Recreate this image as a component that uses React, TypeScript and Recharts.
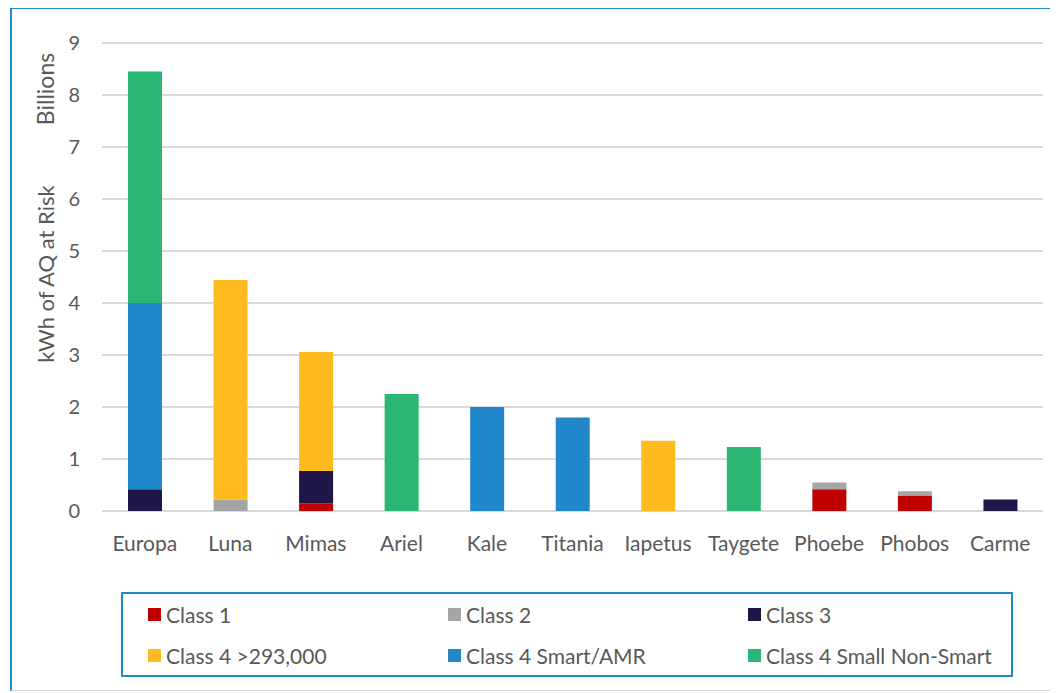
import React from 'react';
import { BarChart, Bar, XAxis, YAxis, CartesianGrid } from 'recharts';

const categories = ['Europa', 'Luna', 'Mimas', 'Ariel', 'Kale', 'Titania', 'Iapetus', 'Taygete', 'Phoebe', 'Phobos', 'Carme'];
const class1 = [0, 0, 0.15, 0, 0, 0, 0, 0, 0.42, 0.3, 0];
const class2 = [0, 0.22, 0, 0, 0, 0, 0, 0, 0.13, 0.08, 0];
const class3 = [0.42, 0, 0.62, 0, 0, 0, 0, 0, 0, 0, 0.22];
const class4Large = [0, 4.22, 2.29, 0, 0, 0, 1.35, 0, 0, 0, 0];
const class4Smart = [3.58, 0, 0, 0, 2.0, 1.8, 0, 0, 0, 0, 0];
const class4Small = [4.45, 0, 0, 2.25, 0, 0, 0, 1.23, 0, 0, 0];
const yTicks = [0, 1, 2, 3, 4, 5, 6, 7, 8, 9];

const seriesDefs = [
  { key: 'c1', name: 'Class 1', color: '#C00000', values: class1 },
  { key: 'c2', name: 'Class 2', color: '#A5A5A5', values: class2 },
  { key: 'c3', name: 'Class 3', color: '#201547', values: class3 },
  { key: 'c4l', name: 'Class 4 >293,000', color: '#FFBA1E', values: class4Large },
  { key: 'c4s', name: 'Class 4 Smart/AMR', color: '#2189CB', values: class4Smart },
  { key: 'c4n', name: 'Class 4 Small Non-Smart', color: '#2BB673', values: class4Small },
];

const data = categories.map((name, i) => {
  const row: Record<string, number | string> = { name };
  seriesDefs.forEach((s) => {
    row[s.key] = s.values[i];
  });
  return row;
});

const FONT = 'Lato, "Open Sans", sans-serif';
const TEXT = '#595959';

export default function App() {
  return (
    <div
      style={{
        position: 'relative',
        width: 1058,
        height: 693,
        marginLeft: -8,
        marginTop: -8,
        overflow: 'hidden',
        background: '#fff',
        fontFamily: FONT,
      }}
    >
      <div
        style={{
          position: 'absolute',
          left: 10,
          top: 7,
          width: 1070,
          height: 684,
          borderLeft: '2px solid #2189CB',
          borderTop: '2px solid #2189CB',
          borderBottom: '1px solid #d9d9d9',
          boxSizing: 'border-box',
        }}
      />
      <div style={{ position: 'absolute', left: 0, top: 0 }}>
        <BarChart
          width={1058}
          height={693}
          data={data}
          margin={{ top: 43, right: 15, bottom: 152, left: 52 }}
          barSize={34}
        >
          <CartesianGrid vertical={false} stroke="#d9d9d9" strokeWidth={2} />
          <XAxis
            dataKey="name"
            axisLine={false}
            tickLine={false}
            height={30}
            tickSize={0}
            tickMargin={25}
            tick={{ fill: TEXT, fontSize: 21, fontFamily: FONT }}
            interval={0}
          />
          <YAxis
            domain={[0, 9]}
            ticks={yTicks}
            width={50}
            axisLine={false}
            tickLine={false}
            tickSize={0}
            tickMargin={22}
            tick={{ fill: TEXT, fontSize: 20, fontFamily: FONT }}
            interval={0}
          />
          {seriesDefs.map((s) => (
            <Bar
              key={s.key}
              dataKey={s.key}
              name={s.name}
              stackId="a"
              fill={s.color}
              isAnimationActive={false}
            />
          ))}
        </BarChart>
      </div>
      <div
        style={{
          position: 'absolute',
          left: 45,
          top: 274,
          transform: 'translate(-50%, -50%) rotate(-90deg)',
          whiteSpace: 'nowrap',
          color: TEXT,
          fontSize: 22,
        }}
      >
        kWh of AQ at Risk
      </div>
      <div
        style={{
          position: 'absolute',
          left: 45,
          top: 89,
          transform: 'translate(-50%, -50%) rotate(-90deg)',
          whiteSpace: 'nowrap',
          color: TEXT,
          fontSize: 23,
        }}
      >
        Billions
      </div>
      <div
        style={{
          position: 'absolute',
          left: 121,
          top: 592,
          width: 892,
          height: 85,
          border: '2px solid #2189CB',
          boxSizing: 'border-box',
        }}
      >
        {seriesDefs.map((s, i) => (
          <div
            key={s.key}
            style={{
              position: 'absolute',
              left: 25 + (i % 3) * 300,
              top: i < 3 ? 8 : 49,
              display: 'flex',
              alignItems: 'center',
              height: 24,
              color: TEXT,
              fontSize: 21,
              whiteSpace: 'nowrap',
            }}
          >
            <span style={{ display: 'inline-block', width: 13, height: 13, background: s.color, marginRight: 5 }} />
            {s.name}
          </div>
        ))}
      </div>
    </div>
  );
}
